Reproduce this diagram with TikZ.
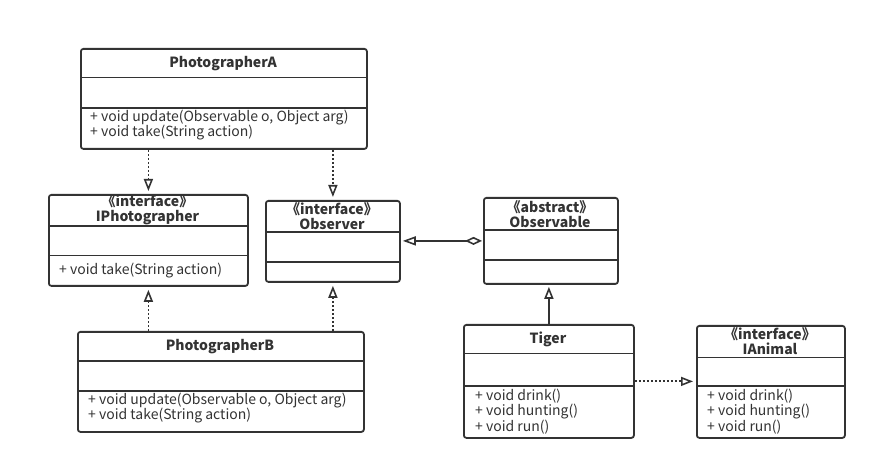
\documentclass[tikz,border=0pt]{standalone}
\usepackage{fontspec}
\setmainfont{Noto Sans CJK SC}
\usetikzlibrary{arrows.meta,calc}
\definecolor{ink}{HTML}{333333}
\tikzset{
  cls/.style={draw=ink, line width=1.8pt, rounded corners=2.5pt, inner sep=0pt, anchor=north west, fill=white},
  sep/.style={draw=ink, line width=1.8pt},
  ttl/.style={font=\fontsize{14}{15}\selectfont\bfseries, text=ink, align=center, inner sep=0pt},
  mth/.style={font=\fontsize{14}{15.5}\selectfont, text=ink, align=left, inner sep=0pt, anchor=base west},
  real/.style={draw=ink, line width=1.8pt, dash pattern=on 2pt off 2pt, -{Triangle[open, length=12pt, width=9pt, line width=1.6pt]}, shorten >=3pt},
  gen/.style={draw=ink, line width=1.8pt, -{Triangle[open, length=12pt, width=9pt, line width=1.6pt]}, shorten >=2pt},
  agg/.style={draw=ink, line width=1.8pt, {Diamond[open, length=17pt, width=8pt, line width=1.6pt]}-{Triangle[open, length=13pt, width=9pt, line width=1.6pt]}, shorten >=2pt, shorten <=1pt},
}
\begin{document}
\begin{tikzpicture}[x=1pt,y=-1pt]
\useasboundingbox (0,0) rectangle (876,470);
% PhotographerA
\node[cls, minimum width=286pt, minimum height=100pt] (pA) at (80,48) {};
\draw[sep] (80,77.5) -- (366,77.5) (80,108) -- (366,108);
\node[ttl] (pAt) at (223,63.5) {PhotographerA};
\node[mth] (pAm) at (90,137) {+ void update(Observable o, Object arg)\\+ void take(String action)};
% IPhotographer
\node[cls, minimum width=199pt, minimum height=91pt] (iP) at (48,194) {};
\draw[sep] (48,226) -- (247,226) (48,255.5) -- (247,255.5);
\node[ttl] (iPt) at (147.5,210) {《interface》\\IPhotographer};
\node[mth] (iPm) at (59,275) {+ void take(String action)};
% Observer
\node[cls, minimum width=134pt, minimum height=81pt] (ob) at (265,200) {};
\draw[sep] (265,232) -- (399,232) (265,262) -- (399,262);
\node[ttl] (obt) at (332,216) {《interface》\\Observer};
% Observable
\node[cls, minimum width=134pt, minimum height=86pt] (oa) at (483,197) {};
\draw[sep] (483,230) -- (617,230) (483,260) -- (617,260);
\node[ttl] (oat) at (550,214) {《abstract》\\Observable};
% PhotographerB
\node[cls, minimum width=286pt, minimum height=100pt] (pB) at (77,331) {};
\draw[sep] (77,361) -- (363,361) (77,391) -- (363,391);
\node[ttl] (pBt) at (220,346.5) {PhotographerB};
\node[mth] (pBm) at (88,419.5) {+ void update(Observable o, Object arg)\\+ void take(String action)};
% Tiger
\node[cls, minimum width=170pt, minimum height=113pt] (tg) at (463,324) {};
\draw[sep] (463,353.5) -- (633,353.5) (463,386) -- (633,386);
\node[ttl] (tgt) at (548,339.5) {Tiger};
\node[mth] (tgm) at (475,431.5) {+ void drink()\\+ void hunting()\\+ void run()};
% IAnimal
\node[cls, minimum width=148pt, minimum height=112pt] (ia) at (696,325) {};
\draw[sep] (696,357.5) -- (844,357.5) (696,386) -- (844,386);
\node[ttl] (iat) at (770,341.5) {《interface》\\IAnimal};
\node[mth] (iam) at (707,431.5) {+ void drink()\\+ void hunting()\\+ void run()};
% connectors
\draw[real] (pA.south -| iP.north) -- (iP.north);
\draw[real] (pA.south -| ob.north) -- (ob.north);
\draw[real] (pB.north -| iP.south) -- (iP.south);
\draw[real] (pB.north -| ob.south) -- (ob.south);
\draw[agg] (oa.west) -- (oa.west -| ob.east);
\draw[gen] (tg.north) -- (tg.north |- oa.south);
\draw[real] (tg.east) -- (tg.east -| ia.west);
\end{tikzpicture}
\end{document}
